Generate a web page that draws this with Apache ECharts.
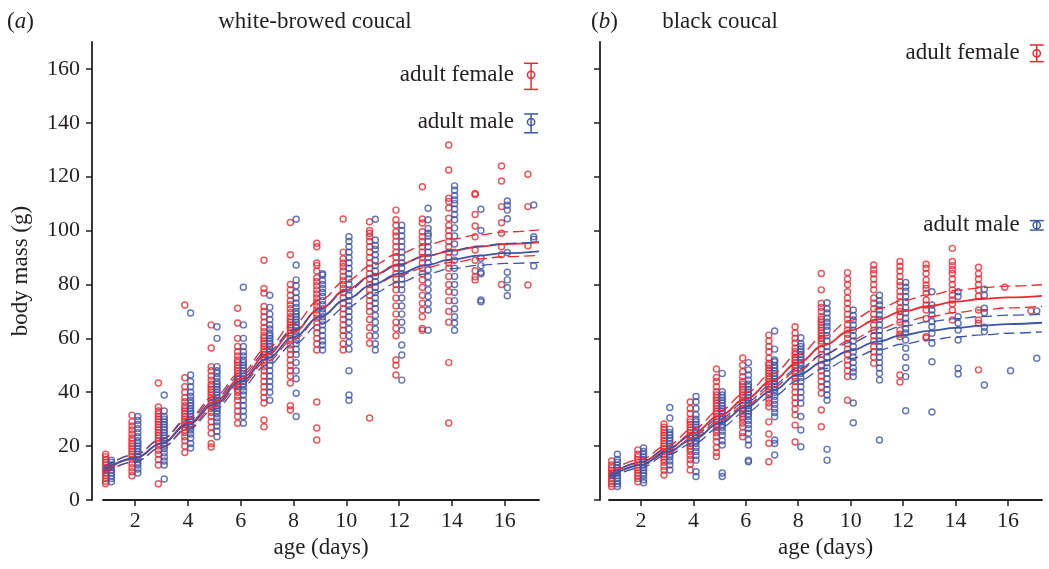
<!DOCTYPE html>
<html>
<head>
<meta charset="utf-8">
<title>coucal nestling growth</title>
<script src="https://cdn.jsdelivr.net/npm/echarts@6/dist/echarts.min.js"></script>
<style>
  html, body { margin: 0; padding: 0; background: #fff; }
  #chart { width: 1049px; height: 569px; }
</style>
</head>
<body>
<div id="chart"></div>
<script>
// nestling age of each measured column (days)
const ages = [1, 2, 3, 4, 5, 6, 7, 8, 9, 10, 11, 12, 13, 14, 15, 16, 17];
const xTicks = [2, 4, 6, 8, 10, 12, 14, 16];
const yTicks = [0, 20, 40, 60, 80, 100, 120, 140, 160];

// (a) white-browed coucal, body mass (g) per age, females
const wbFemale = [
  [6, 7, 8, 9, 10, 11, 12, 13, 14, 15, 16, 17],
  [9, 10.5, 12, 13.5, 15, 16, 17, 18, 19, 20, 21, 22, 23, 24.5, 26, 27.5, 29, 31.5],
  [6, 13, 15, 17, 18.5, 20, 21, 22, 23, 24, 25, 26, 27, 28, 29, 30, 31, 32, 33, 34.5, 43.4],
  [17.6, 20, 22, 23.5, 25, 26, 27, 28, 29, 30, 31, 32, 33, 34, 35, 36.5, 38, 40, 42, 45.4, 72.4],
  [19.7, 21, 24.8, 27, 29, 31, 32.5, 34, 35, 36, 37, 38, 39, 40, 41, 42, 43, 44.5, 46, 48, 49.5, 56.4, 65],
  [28.5, 31, 33, 35, 37, 38.5, 40, 41, 42, 43, 44, 45, 46, 47, 48, 49, 50, 51, 52, 53.5, 55, 57, 60, 65.7, 71.2],
  [27.2, 29.7, 36, 38, 40, 42, 44, 46, 48, 49.5, 51, 52, 53, 54, 55, 56, 57, 58, 59, 60, 61, 62.5, 64, 66, 68, 70, 71.8, 76.8, 78.5, 89],
  [33.4, 35, 43.4, 46, 48, 50, 52, 54, 56, 57.5, 59, 60, 61, 62, 63, 64, 65, 66, 67, 68, 69.5, 71, 72.5, 74, 76, 78, 80, 91, 103],
  [22.3, 26.7, 36.4, 55.7, 58, 60, 62, 64, 66, 67.5, 69, 70.5, 72, 73.5, 75, 76.5, 78, 79.5, 81, 82.5, 85, 87, 88, 94, 95.3],
  [55.7, 58, 61, 63, 65, 67, 69, 71, 73, 75, 77, 78.5, 80, 81.5, 83, 85, 86.6, 88, 89.5, 92, 104.3],
  [30.4, 58.2, 61, 64, 67, 70, 72, 74, 76, 78, 80, 82, 84, 86, 88, 90, 92, 94, 96, 97.7, 99, 100, 103.3],
  [46.4, 50, 52, 61, 63.7, 66, 69, 72, 75, 78, 80, 82, 84, 86, 88, 90, 92, 94, 96, 98, 99.6, 102, 104, 107.6],
  [63, 63.7, 68, 70.5, 73, 76, 79, 81.7, 84, 86, 88, 90, 92, 94, 96, 97.7, 99.6, 102.8, 104.3, 116.3],
  [28.6, 51, 66, 70, 74, 77.3, 80, 83, 86, 88, 90, 92, 94, 96, 98, 100, 102, 104.6, 108.4, 110.8, 112, 122.5, 131.8],
  [81.7, 82.9, 85.1, 89, 92.8, 97.7, 101.7, 106, 113.4, 113.8],
  [80, 91, 94, 99, 102.9, 108.9, 118.4, 124],
  [79.8, 94.4, 108.9, 120.9]
];

// (a) white-browed coucal, males
const wbMale = [
  [6.8, 8, 9, 10, 11, 12, 13, 14, 14.8],
  [10, 11.5, 13, 14, 15, 16, 17, 18, 19, 20, 21, 22, 23.5, 25, 26.5, 28, 29.5, 31],
  [7.8, 13, 14.5, 16, 17.5, 19, 20, 21, 22, 23, 24, 25, 26, 27, 28, 29, 30, 31, 33, 39],
  [19.3, 21, 23, 24.5, 26, 27, 28, 29, 30, 31, 32, 33, 34, 35, 36, 37, 38.5, 40, 42, 44, 46.4, 69.4],
  [23.5, 25.5, 27.5, 29, 30.5, 32, 33, 34, 35, 36, 37, 38, 39, 40, 41, 42, 43, 44, 45.5, 47, 48, 49.5, 60, 64.3],
  [28.5, 31, 33, 35, 37, 39, 40.5, 42, 43, 44, 45, 46, 47, 48, 49, 50, 51, 52, 53.5, 55, 57, 60, 65, 79],
  [37, 40, 42, 44, 46, 48, 50, 52, 53, 54, 55, 56, 57, 58, 59, 60, 61, 62, 63.5, 65, 67, 69, 71.5, 76],
  [31, 39.6, 45, 48, 51, 54, 56, 58, 59.5, 61, 62.5, 64, 65, 66, 67, 68, 69, 70, 71.5, 73, 75, 77, 79.5, 81.7, 87.2, 104.2],
  [55.7, 57.5, 59, 61, 63, 65, 66.5, 68, 69.5, 71, 72.5, 74, 75.5, 77, 78.5, 80, 81.5, 83.5, 84],
  [37, 39, 48, 56, 58.5, 61, 63.5, 66, 68, 70, 72, 74, 76, 78, 80, 82, 84, 86, 88, 90, 92, 94, 96, 97.7],
  [55.7, 58, 61, 63.5, 66, 68.5, 71, 73, 75, 77, 79, 81, 83, 85, 87, 89, 91, 93, 94.5, 96.5, 104.2],
  [44.5, 53.8, 57.5, 63, 66, 69, 72, 75, 78, 80, 82, 84, 86, 88, 90, 92, 94, 96, 98, 100, 102],
  [63, 70.5, 73, 75.5, 78, 80.5, 83, 85.5, 88, 90, 92, 94, 96, 98, 99, 100.8, 104, 108.3],
  [63, 65.7, 68, 71, 74, 77, 80, 83, 86, 89, 92, 95, 98, 101, 104, 106, 108, 110, 111.4, 113, 115, 116.6],
  [73.6, 74.2, 84, 84.5, 87, 89.7, 100, 107.9],
  [75.8, 78.8, 81.7, 84.5, 91.9, 104.4, 107.6, 109.4, 111],
  [86.9, 96.8, 97.7, 109.5]
];

// (b) black coucal, females
const bcFemale = [
  [5, 6, 7, 8, 9, 10, 11, 12, 13, 14.5],
  [6.8, 8, 9, 10, 11, 12, 13, 14, 15, 16, 17, 18.6],
  [9.3, 11, 12.5, 14, 15, 16, 17, 18, 19, 20, 21, 22, 23, 24, 25, 26, 27, 28.2],
  [11.1, 13.4, 15, 16.5, 18, 19, 20, 21, 22, 23, 24, 25, 26, 27, 28, 29, 30, 32, 34, 36.4],
  [16.1, 17.6, 19.5, 21.6, 23.5, 25, 26, 27, 28, 29, 30, 31, 32, 33, 34, 35, 36, 37, 38, 39, 40.2, 42, 44, 45.5, 48.6],
  [23.5, 25, 27.2, 28.6, 30, 31, 32, 33, 34, 35, 36, 37, 38, 39, 40, 41, 42, 43, 44, 45.8, 47.6, 50, 52.7],
  [14.2, 21.1, 24.5, 29, 34.6, 36, 37.5, 39, 40, 41, 42, 43, 44, 45, 46, 47, 48, 49, 50, 50.8, 52.7, 55, 57, 59, 61.2],
  [21.5, 27.8, 31.6, 33.8, 36, 38, 40, 42, 44, 45.5, 47, 48, 49, 50, 51, 52, 53, 54, 55, 56.4, 58.3, 60, 62, 64.3],
  [27.2, 33.4, 39.6, 42, 44, 46, 48, 50, 52, 54, 56, 58, 59, 60, 61, 62, 63, 64, 65, 66, 67, 68, 70, 71.5, 73, 78, 84.1],
  [37, 45.8, 48, 50, 52, 54, 56, 58, 60, 61.5, 63.1, 65, 67, 69, 71, 73, 75, 77.3, 80, 82, 84.4],
  [50.8, 53, 55, 57, 59, 61, 63, 65, 67, 69, 71, 73, 75, 78, 80, 82, 84, 85.5, 87.2],
  [43.8, 46.4, 60.6, 61.5, 63, 66, 68, 70, 71.2, 73.5, 75.5, 77.5, 79.5, 81, 83, 85, 86.8, 88.5],
  [60.1, 60.6, 67.4, 70.5, 72.4, 74.2, 76.7, 78.5, 79.8, 81.7, 84.1, 86, 87.5],
  [66.8, 70.5, 72.8, 74.2, 76, 78, 80, 82, 84.1, 85.5, 87, 88.5, 93.4],
  [48.3, 65.6, 66.8, 70.5, 75.7, 78, 80, 82, 84, 86.4],
  [79],
  [70.2]
];

// (b) black coucal, males
const bcMale = [
  [5, 6, 7, 8, 9, 10, 11, 12, 13, 14, 15, 17],
  [6.4, 7.5, 9, 10, 11, 12, 13, 14, 15, 16, 17, 18, 19.3],
  [11.1, 13, 14.5, 16, 17, 18, 19, 20, 21, 22, 23, 24, 25, 26.3, 30.4, 34.3],
  [8.7, 10.5, 14.8, 16.5, 18, 19.5, 21, 22, 23, 24, 25, 26, 27, 28, 29, 30, 31.6, 34, 36.5, 38.4],
  [8.7, 10, 20.4, 22, 24, 25.5, 27, 28, 29, 30, 31, 32, 33, 34, 35, 36, 37, 38, 39, 40.2, 47],
  [14.2, 14.8, 20.4, 22.3, 24.8, 26.5, 28, 29.5, 31, 32, 33, 34, 35, 36, 37, 38, 39, 40, 41, 42, 43, 44.5, 46.4, 48.3, 51],
  [16.7, 21, 22.3, 30.9, 32.5, 34, 35.5, 37, 38.5, 40, 41, 42, 43, 44, 45, 46, 47, 48, 49, 50, 51.3, 52, 56, 62.7],
  [19.8, 26, 31, 35.9, 38, 40, 42, 44, 45.5, 47, 48.5, 50, 51, 52, 53, 54, 55, 56, 57, 58, 60.2],
  [14.8, 18.8, 37, 39, 41, 43, 45, 47, 49, 51, 53, 55, 57, 59, 61, 63, 64.5, 66, 67.5, 69.4, 71, 73.2],
  [28.7, 36, 45.8, 47.5, 49, 51, 53, 55, 57, 59, 61, 63, 65, 66.8, 68.5, 70.5],
  [22.3, 44.5, 47, 49, 51, 53, 55, 57, 59, 61, 63, 65, 67, 68.8, 70.5, 72.5, 74, 76],
  [33.1, 45.8, 49.1, 53, 56.3, 59.4, 62, 63.5, 65.6, 67.5, 69.5, 71.5, 73.5, 75.5, 77.5, 79, 80.7],
  [32.7, 51.3, 58.2, 61.9, 64.3, 66.2, 68.7, 70.5, 72.4, 77.3],
  [46.8, 48.9, 59.4, 63.1, 65.6, 68, 75.5, 77.3],
  [42.7, 62.5, 64.1, 69.5, 71.2, 76, 78.2],
  [48],
  [52.6, 70.2]
];

// fitted growth curves with dashed confidence bands, read at these ages
const curveAge = [0.8, 2, 3, 4, 5, 6, 7, 8, 9, 10, 11, 12, 13, 14, 15, 16, 17.3];
const wbFemaleFit = [10.5, 15.6, 21, 28.5, 36.5, 45, 54, 62.5, 71, 78, 83.5, 87.5, 90.5, 92.5, 94, 95, 95.6];
const wbFemaleLo = [9.5, 14.3, 19.5, 26.8, 34.6, 43, 51.6, 59.6, 67.8, 74.5, 79.8, 83.5, 86.3, 88.2, 89.5, 90.3, 90.8];
const wbFemaleHi = [11.6, 17, 22.6, 30.3, 38.5, 47.2, 56.4, 65.4, 74.2, 81.5, 87.2, 91.5, 94.7, 96.8, 98.4, 99.5, 100.3];
const wbMaleFit = [11.2, 15.5, 21, 28, 35.5, 44, 52.5, 60.5, 68, 74.5, 80, 84, 87.2, 89.3, 90.7, 91.6, 92.3];
const wbMaleLo = [10.2, 14.2, 19.5, 26.3, 33.6, 41.8, 50, 57.8, 65.2, 71.5, 76.8, 80.8, 83.9, 85.9, 87.1, 87.8, 88.2];
const wbMaleHi = [12.2, 16.8, 22.5, 29.7, 37.4, 46.2, 55, 63.2, 70.8, 77.5, 83.2, 87.2, 90.5, 92.7, 94.2, 95.2, 95.8];
const bcFemaleFit = [9.3, 14, 18.8, 24.8, 31.3, 37.5, 44.2, 51, 57.5, 63, 67, 70, 72, 73.6, 74.6, 75.2, 75.8];
const bcFemaleLo = [8.4, 12.8, 17.4, 23.1, 29.4, 35.3, 41.7, 48.1, 54.2, 59.4, 63.3, 66.1, 68.1, 69.6, 70.6, 71.3, 71.9];
const bcFemaleHi = [10.2, 15.2, 20.2, 26.5, 33.2, 39.8, 46.8, 54, 60.9, 66.7, 70.9, 74, 76.2, 77.8, 78.8, 79.4, 79.9];
const bcMaleFit = [8.6, 13, 18, 22.5, 28.5, 34.5, 40.5, 46.5, 51.5, 55.5, 58.8, 61.2, 62.8, 63.9, 64.7, 65.3, 65.8];
const bcMaleLo = [7.8, 12, 16.8, 21, 26.8, 32.6, 38.4, 44.2, 48.8, 52.5, 55.6, 57.9, 59.4, 60.5, 61.3, 61.9, 62.4];
const bcMaleHi = [9.4, 14, 19.2, 24, 30.2, 36.4, 42.6, 48.8, 54.2, 58.5, 62, 64.5, 66.2, 67.3, 68.1, 68.6, 68.9];

// adult body mass: [age position, mean, lower, upper], female then male
const adultLabels = ['adult female', 'adult male'];
const wbAdult = [[17, 157.8, 152.4, 162.1], [17, 140.3, 136.3, 143.3]];
const bcAdult = [[17.1, 165.8, 162.7, 168.9], [17.1, 102, 100.2, 103.7]];

const RED = '#ec2830';
const BLUE = '#3d55a8';
const INK = '#231f20';
const SERIF = '"Liberation Serif", "Times New Roman", serif';

const chart = echarts.init(document.getElementById('chart'), null, { renderer: 'canvas' });

function columns(perDay, shift) {
  const pts = [];
  perDay.forEach((masses, i) => {
    masses.forEach(m => pts.push([ages[i] + shift, m]));
  });
  return pts;
}

function scatter(idx, perDay, shift, color) {
  return {
    type: 'scatter',
    xAxisIndex: idx,
    yAxisIndex: idx,
    symbol: 'circle',
    symbolSize: 6,
    itemStyle: { color: 'rgba(255,255,255,0)', borderColor: color, borderWidth: 1.45 },
    data: columns(perDay, shift),
    z: 2
  };
}

function curve(idx, values, color, dashed) {
  return {
    type: 'line',
    xAxisIndex: idx,
    yAxisIndex: idx,
    smooth: 0.4,
    smoothMonotone: 'x',
    showSymbol: false,
    lineStyle: { color: color, width: dashed ? 1.3 : 1.8, type: dashed ? [11, 5] : 'solid' },
    data: curveAge.map((a, i) => [a, values[i]]),
    z: 3
  };
}

function adult(idx, rows) {
  return {
    type: 'custom',
    xAxisIndex: idx,
    yAxisIndex: idx,
    clip: false,
    z: 4,
    data: rows,
    renderItem: function (params, api) {
      const color = params.dataIndex === 0 ? RED : BLUE;
      const mid = api.coord([api.value(0), api.value(1)]);
      const lo = api.coord([api.value(0), api.value(2)]);
      const hi = api.coord([api.value(0), api.value(3)]);
      const line = { stroke: color, lineWidth: 1.5 };
      return {
        type: 'group',
        children: [
          { type: 'line', shape: { x1: mid[0], y1: hi[1], x2: mid[0], y2: lo[1] }, style: line },
          { type: 'line', shape: { x1: mid[0] - 7, y1: hi[1], x2: mid[0] + 7, y2: hi[1] }, style: line },
          { type: 'line', shape: { x1: mid[0] - 7, y1: lo[1], x2: mid[0] + 7, y2: lo[1] }, style: line },
          { type: 'circle', shape: { cx: mid[0], cy: mid[1], r: 3.6 }, style: { fill: 'none', stroke: color, lineWidth: 1.5 } },
          {
            type: 'text', x: mid[0] - 17, y: mid[1],
            style: { text: adultLabels[params.dataIndex], fill: INK, font: '23px ' + SERIF, align: 'right', verticalAlign: 'middle' }
          }
        ]
      };
    }
  };
}

function xAxis(idx) {
  return {
    type: 'value',
    gridIndex: idx,
    min: 0.78,
    max: 17.3,
    name: 'age (days)',
    nameLocation: 'middle',
    nameGap: 35,
    nameTextStyle: { color: INK, fontFamily: SERIF, fontSize: 23 },
    axisLine: { show: true, lineStyle: { color: INK, width: 1.8 } },
    axisTick: { show: true, length: 6, lineStyle: { color: INK, width: 1.5 }, customValues: xTicks },
    axisLabel: { color: INK, fontFamily: SERIF, fontSize: 22, margin: 10, customValues: xTicks },
    splitLine: { show: false }
  };
}

function yAxis(idx, offset, withLabels) {
  return {
    type: 'value',
    gridIndex: idx,
    min: 0,
    max: 170,
    offset: offset,
    name: withLabels ? 'body mass (g)' : '',
    nameLocation: 'middle',
    nameGap: 60,
    nameTextStyle: { color: INK, fontFamily: SERIF, fontSize: 23 },
    axisLine: { show: true, lineStyle: { color: INK, width: 1.8 } },
    axisTick: { show: true, length: 6, lineStyle: { color: INK, width: 1.5 }, customValues: yTicks },
    axisLabel: { show: withLabels, color: INK, fontFamily: SERIF, fontSize: 22, margin: 12, customValues: yTicks },
    splitLine: { show: false }
  };
}

function heading(x, text, align) {
  return {
    type: 'text', x: x, y: 22,
    style: {
      text: text, fill: INK, font: '23px ' + SERIF, align: align, verticalAlign: 'middle',
      rich: { i: { fontStyle: 'italic', font: 'italic 23px ' + SERIF, fill: INK } }
    }
  };
}

chart.setOption({
  animation: false,
  backgroundColor: '#fff',
  graphic: [
    heading(7, '({i|a})', 'left'),
    heading(315, 'white-browed coucal', 'center'),
    heading(591, '({i|b})', 'left'),
    heading(720, 'black coucal', 'center')
  ],
  grid: [
    { left: 103, top: 42, width: 436, height: 458 },
    { left: 609, top: 42, width: 433, height: 458 }
  ],
  xAxis: [xAxis(0), xAxis(1)],
  yAxis: [yAxis(0, 11, true), yAxis(1, 9, false)],
  series: [
    scatter(0, wbFemale, -0.12, RED),
    scatter(0, wbMale, 0.1, BLUE),
    curve(0, wbFemaleFit, RED, false),
    curve(0, wbFemaleLo, RED, true),
    curve(0, wbFemaleHi, RED, true),
    curve(0, wbMaleFit, BLUE, false),
    curve(0, wbMaleLo, BLUE, true),
    curve(0, wbMaleHi, BLUE, true),
    adult(0, wbAdult),
    scatter(1, bcFemale, -0.12, RED),
    scatter(1, bcMale, 0.1, BLUE),
    curve(1, bcFemaleFit, RED, false),
    curve(1, bcFemaleLo, RED, true),
    curve(1, bcFemaleHi, RED, true),
    curve(1, bcMaleFit, BLUE, false),
    curve(1, bcMaleLo, BLUE, true),
    curve(1, bcMaleHi, BLUE, true),
    adult(1, bcAdult)
  ]
});
</script>
</body>
</html>
